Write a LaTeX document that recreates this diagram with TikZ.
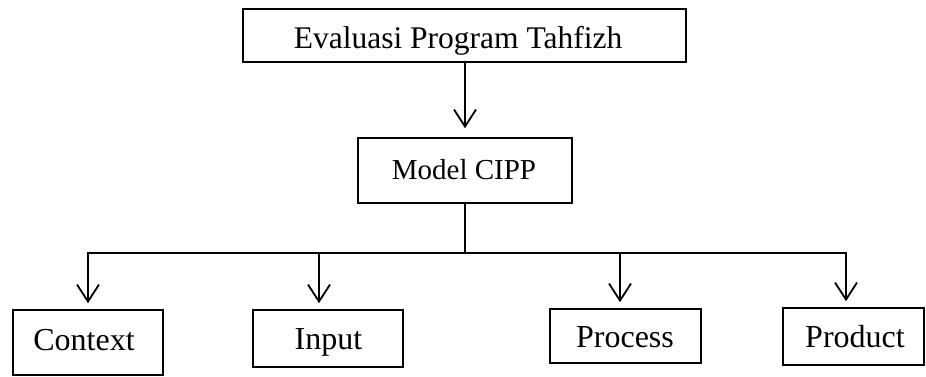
\documentclass[tikz,border=0pt]{standalone}
\usepackage{fontspec}
\setmainfont{Liberation Serif}
\usetikzlibrary{arrows.meta}
\begin{document}
\begin{tikzpicture}[x=1pt,y=1pt,
  box/.style={draw, line width=1.6pt, inner sep=0pt, anchor=center},
  lbl/.style={inner sep=0pt, anchor=base},
  big/.style={font=\fontsize{31.5}{37}\selectfont},
  mid/.style={font=\fontsize{29}{35}\selectfont},
  low/.style={font=\fontsize{32}{38}\selectfont},
  conn/.style={line width=1.8pt, line cap=rect},
  arr/.style={line width=1.8pt, -{Straight Barb[length=17pt,width=22pt,line width=1.8pt]}}]
\useasboundingbox (0,0) rectangle (926,377);
% boxes
\node[box, minimum width=443pt, minimum height=53pt] (eval) at (464.5,341.5) {};
\node[box, minimum width=214pt, minimum height=65pt] (cipp) at (465,206.5) {};
\node[box, minimum width=150pt, minimum height=65pt] (ctx) at (88,34.5) {};
\node[box, minimum width=150pt, minimum height=57pt] (inp) at (328,38.5) {};
\node[box, minimum width=151pt, minimum height=54pt] (proc) at (625.5,41) {};
\node[box, minimum width=141pt, minimum height=57pt] (prod) at (853.5,40.5) {};
% texts
\node[lbl, big] (evalt) at (458,328) {Evaluasi Program Tahfizh};
\node[lbl, mid] (cippt) at (464,197) {Model CIPP};
\node[lbl, low] (ctxt) at (84,26) {Context};
\node[lbl, low] (inpt) at (328.5,27) {Input};
\node[lbl, low] (proct) at (625,29) {Process};
\node[lbl, low] (prodt) at (855,29) {Product};
% connectors
\coordinate (hub) at (465,124);
\coordinate (a1) at (88,124);
\coordinate (a2) at (319,124);
\coordinate (a3) at (620,124);
\coordinate (a4) at (846,124);
\draw[arr, shorten >=9pt] (cipp.north |- eval.south) -- (cipp.north);
\draw[conn] (cipp.south) -- (hub);
\draw[conn] (a1) -- (a4);
\draw[arr, shorten >=6pt] (a1) -- (a1 |- ctx.north);
\draw[arr, shorten >=6pt] (a2) -- (a2 |- inp.north);
\draw[arr, shorten >=6pt] (a3) -- (a3 |- proc.north);
\draw[arr, shorten >=6pt] (a4) -- (a4 |- prod.north);
\end{tikzpicture}
\end{document}
